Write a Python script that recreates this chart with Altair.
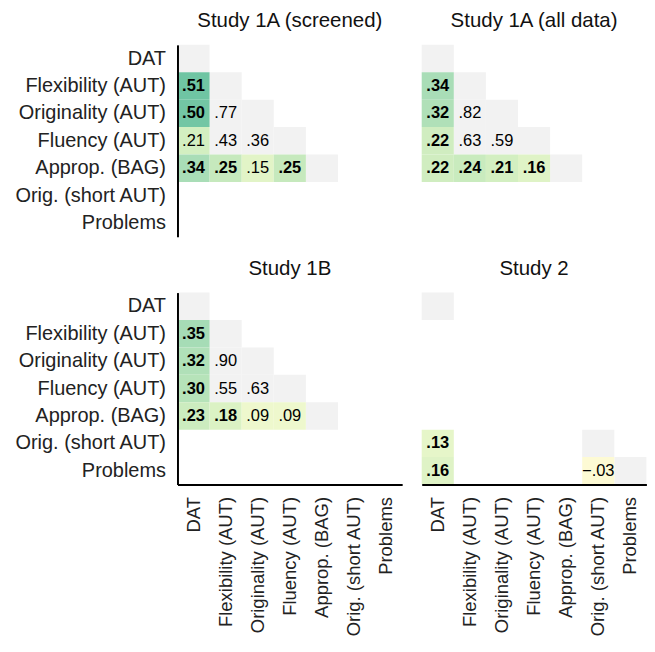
import altair as alt
import pandas as pd

cats = ["DAT", "Flexibility (AUT)", "Originality (AUT)", "Fluency (AUT)",
        "Approp. (BAG)", "Orig. (short AUT)", "Problems"]
aut = ["Flexibility (AUT)", "Originality (AUT)", "Fluency (AUT)"]
studies = ["Study 1A (screened)", "Study 1A (all data)", "Study 1B", "Study 2"]

pair_rows_1 = ["Flexibility (AUT)", "Originality (AUT)", "Originality (AUT)",
               "Fluency (AUT)", "Fluency (AUT)", "Fluency (AUT)",
               "Approp. (BAG)", "Approp. (BAG)", "Approp. (BAG)", "Approp. (BAG)"]
pair_cols_1 = ["DAT", "DAT", "Flexibility (AUT)",
               "DAT", "Flexibility (AUT)", "Originality (AUT)",
               "DAT", "Flexibility (AUT)", "Originality (AUT)", "Fluency (AUT)"]
diag_1 = ["DAT", "Flexibility (AUT)", "Originality (AUT)", "Fluency (AUT)", "Approp. (BAG)"]

r_1a_screened = [0.51, 0.50, 0.77, 0.21, 0.43, 0.36, 0.34, 0.25, 0.15, 0.25]
sig_1a_screened = [1, 1, 0, 0, 0, 0, 1, 1, 0, 1]
r_1a_all = [0.34, 0.32, 0.82, 0.22, 0.63, 0.59, 0.22, 0.24, 0.21, 0.16]
sig_1a_all = [1, 1, 0, 1, 0, 0, 1, 1, 1, 1]
r_1b = [0.35, 0.32, 0.90, 0.30, 0.55, 0.63, 0.23, 0.18, 0.09, 0.09]
sig_1b = [1, 1, 0, 1, 0, 0, 1, 1, 0, 0]

pair_rows_2 = ["Orig. (short AUT)", "Problems", "Problems"]
pair_cols_2 = ["DAT", "DAT", "Orig. (short AUT)"]
diag_2 = ["DAT", "Orig. (short AUT)", "Problems"]
r_2 = [0.13, 0.16, -0.03]
sig_2 = [1, 1, 0]

color_domain = [-0.05, 0.1, 0.2, 0.35, 0.55]
color_range = ["#fffad6", "#edf8cc", "#d6f0c2", "#a6dcb6", "#5fbf9f"]


def fmt(v):
    s = f"{abs(v):.2f}".lstrip("0")
    return ("\u2212" + s) if v < 0 else s


records = []


def add(study, rows, cols, vals, sigs, diag):
    for d in diag:
        records.append(dict(study=study, row=d, col=d, value=None, kind="diag", bold=0, label=""))
    for r, c, v, s in zip(rows, cols, vals, sigs):
        kind = "within" if (r in aut and c in aut) else "cross"
        records.append(dict(study=study, row=r, col=c, value=v, kind=kind, bold=s, label=fmt(v)))


add(studies[0], pair_rows_1, pair_cols_1, r_1a_screened, sig_1a_screened, diag_1)
add(studies[1], pair_rows_1, pair_cols_1, r_1a_all, sig_1a_all, diag_1)
add(studies[2], pair_rows_1, pair_cols_1, r_1b, sig_1b, diag_1)
add(studies[3], pair_rows_2, pair_cols_2, r_2, sig_2, diag_2)
df = pd.DataFrame(records)

FONT = "Liberation Sans"
CELL_W = 32.2
CELL_H = 27.5
YLABEL_FS = 20
XLABEL_FS = 18.5
TITLE_FS = 20.5
CELL_FS = 16.5


def panel(study, show_y, show_x):
    d = df[df.study == study]
    xaxis = alt.Axis(title=None, ticks=False, labelAngle=-90, labelPadding=12,
                     domainColor="black", domainWidth=2, labelFontSize=XLABEL_FS,
                     labelColor="#222", labelFont=FONT, grid=False) if show_x else None
    yaxis = alt.Axis(title=None, ticks=False, labelPadding=12,
                     domainColor="black", domainWidth=2, labelFontSize=YLABEL_FS,
                     labelColor="#222", labelFont=FONT, grid=False) if show_y else None
    base = alt.Chart(d).encode(
        x=alt.X("col:N", sort=cats, scale=alt.Scale(domain=cats, paddingInner=0, paddingOuter=0), axis=xaxis),
        y=alt.Y("row:N", sort=cats, scale=alt.Scale(domain=cats, paddingInner=0, paddingOuter=0), axis=yaxis),
    )
    gray = base.transform_filter("datum.kind != 'cross'").mark_rect(color="#f2f2f2")
    colored = base.transform_filter("datum.kind == 'cross'").mark_rect().encode(
        color=alt.Color("value:Q", scale=alt.Scale(domain=color_domain, range=color_range), legend=None)
    )
    txt_b = base.transform_filter("datum.label != '' && datum.bold == 1").mark_text(
        fontWeight="bold", fontSize=CELL_FS, font=FONT, color="black").encode(text="label:N")
    txt_n = base.transform_filter("datum.label != '' && datum.bold == 0").mark_text(
        fontSize=CELL_FS, font=FONT, color="black").encode(text="label:N")
    return alt.layer(gray, colored, txt_b, txt_n).properties(
        width=CELL_W * 7, height=CELL_H * 7,
        title=alt.TitleParams(study, fontSize=TITLE_FS, fontWeight="normal", font=FONT,
                              color="#111", offset=13, anchor="middle"))


top = alt.hconcat(panel(studies[0], True, False), panel(studies[1], False, False), spacing=19)
bot = alt.hconcat(panel(studies[2], True, True), panel(studies[3], False, True), spacing=19)
chart = alt.vconcat(top, bot, spacing=21.5).properties(
    padding={"left": 5, "top": 2, "right": 0, "bottom": 0}
).configure_view(stroke=None)

chart.save("out.html", embed_options={"renderer": "svg", "actions": False})
